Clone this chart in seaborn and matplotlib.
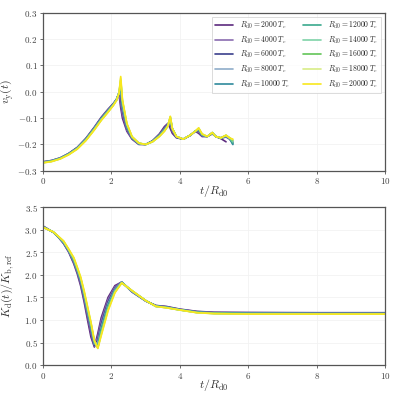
import numpy as np
import pandas as pd
import matplotlib
matplotlib.use("Agg")
import matplotlib.pyplot as plt
import seaborn as sns

radii = [2000, 4000, 6000, 8000, 10000, 12000, 14000, 16000, 18000, 20000]
colors = ["#5c2a7e", "#8a6cb0", "#3b3f8c", "#8fadc9", "#2f8a9c",
          "#3aa98d", "#7fd3a8", "#62c557", "#d8ec86", "#f8e71c"]

nan = np.nan
t_v = [0, 0.25, 0.5, 0.75, 1.0, 1.25, 1.5, 1.7, 1.9, 2.05, 2.15, 2.22, 2.27, 2.32, 2.45, 2.6, 2.8,
       3.0, 3.2, 3.4, 3.55, 3.65, 3.72, 3.78, 3.9, 4.1, 4.3, 4.45, 4.55, 4.65,
       4.8, 4.95, 5.05, 5.2, 5.35, 5.45, 5.55]
v_2000 = [-0.266, -0.261, -0.251, -0.234, -0.211, -0.177, -0.134, -0.097, -0.066, -0.045, -0.03, -0.01, -0.06, -0.1, -0.15, -0.18, -0.2,
          -0.2, -0.186, -0.16, -0.132, -0.12, -0.14, -0.158, -0.175, -0.18, -0.166, -0.15, -0.158, -0.17,
          -0.17, -0.16, -0.17, -0.178, -0.19, nan, nan]
v_4000 = [-0.266, -0.261, -0.251, -0.235, -0.212, -0.178, -0.136, -0.099, -0.068, -0.046, -0.027, -0.005, -0.04, -0.085, -0.145, -0.178, -0.199,
          -0.2, -0.187, -0.163, -0.138, -0.122, -0.125, -0.15, -0.173, -0.18, -0.166, -0.15, -0.152, -0.168,
          -0.17, -0.158, -0.17, -0.177, -0.172, -0.18, -0.19]
v_6000 = [-0.267, -0.262, -0.252, -0.235, -0.213, -0.179, -0.137, -0.1, -0.07, -0.047, -0.028, -0.004, -0.02, -0.07, -0.14, -0.176, -0.198,
          -0.2, -0.187, -0.164, -0.14, -0.124, -0.115, -0.145, -0.172, -0.18, -0.166, -0.15, -0.148, -0.166,
          -0.17, -0.157, -0.17, -0.176, -0.17, -0.178, -0.195]
v_8000 = [-0.267, -0.262, -0.252, -0.236, -0.214, -0.18, -0.138, -0.102, -0.071, -0.048, -0.028, -0.004, 0.005, -0.06, -0.135, -0.175, -0.197,
          -0.2, -0.188, -0.165, -0.142, -0.126, -0.11, -0.142, -0.171, -0.18, -0.165, -0.15, -0.145, -0.165,
          -0.17, -0.156, -0.17, -0.176, -0.169, -0.177, -0.2]
v_10000 = [-0.268, -0.263, -0.253, -0.236, -0.214, -0.181, -0.139, -0.103, -0.072, -0.049, -0.029, -0.004, 0.02, -0.05, -0.132, -0.174, -0.197,
           -0.2, -0.188, -0.166, -0.144, -0.127, -0.105, -0.14, -0.171, -0.18, -0.165, -0.15, -0.143, -0.164,
           -0.17, -0.156, -0.17, -0.176, -0.168, -0.176, -0.2]
v_12000 = [-0.268, -0.263, -0.253, -0.237, -0.215, -0.182, -0.14, -0.104, -0.073, -0.05, -0.029, -0.004, 0.03, -0.045, -0.128, -0.173, -0.196,
           -0.2, -0.189, -0.167, -0.146, -0.128, -0.1, -0.14, -0.17, -0.18, -0.165, -0.15, -0.141, -0.163,
           -0.17, -0.155, -0.17, -0.175, -0.167, -0.175, -0.195]
v_14000 = [-0.269, -0.264, -0.254, -0.237, -0.215, -0.183, -0.141, -0.105, -0.074, -0.05, -0.03, -0.005, 0.04, -0.04, -0.125, -0.172, -0.196,
           -0.2, -0.189, -0.168, -0.147, -0.129, -0.098, -0.14, -0.17, -0.18, -0.165, -0.15, -0.14, -0.162,
           -0.17, -0.155, -0.17, -0.175, -0.166, -0.175, -0.19]
v_16000 = [-0.269, -0.264, -0.254, -0.238, -0.216, -0.184, -0.143, -0.107, -0.076, -0.051, -0.031, -0.005, 0.045, -0.035, -0.123, -0.171, -0.195,
           -0.2, -0.19, -0.169, -0.148, -0.13, -0.095, -0.14, -0.17, -0.18, -0.165, -0.15, -0.139, -0.161,
           -0.17, -0.155, -0.17, -0.175, -0.165, -0.175, -0.185]
v_18000 = [-0.27, -0.265, -0.255, -0.239, -0.217, -0.185, -0.144, -0.108, -0.077, -0.052, -0.032, -0.005, 0.052, -0.032, -0.121, -0.17, -0.195,
           -0.2, -0.19, -0.17, -0.149, -0.13, -0.095, -0.14, -0.17, -0.18, -0.165, -0.15, -0.138, -0.16,
           -0.17, -0.155, -0.17, -0.175, -0.165, -0.175, -0.182]
v_20000 = [-0.27, -0.265, -0.255, -0.239, -0.218, -0.186, -0.145, -0.109, -0.078, -0.053, -0.033, -0.006, 0.058, -0.03, -0.12, -0.17, -0.195,
           -0.2, -0.19, -0.17, -0.15, -0.13, -0.093, -0.14, -0.17, -0.18, -0.165, -0.15, -0.137, -0.16,
           -0.17, -0.155, -0.17, -0.175, -0.165, -0.175, -0.18]
v_series = [v_2000, v_4000, v_6000, v_8000, v_10000, v_12000, v_14000, v_16000, v_18000, v_20000]

t_k = [0, 0.3, 0.45, 0.6, 0.75, 0.9, 1.0, 1.1, 1.2, 1.3, 1.4, 1.5, 1.6, 1.7, 1.9, 2.1, 2.3, 2.6, 3.0, 3.3,
       3.6, 4.0, 4.5, 5.0, 6.0, 8.0, 10.0]
k_2000 = [3.08, 2.94, 2.83, 2.69, 2.5, 2.24, 2.02, 1.75, 1.4, 1.0, 0.62, 0.4, 0.7, 1.05, 1.5, 1.76, 1.84, 1.62, 1.42, 1.32,
          1.30, 1.24, 1.19, 1.17, 1.165, 1.16, 1.16]
k_4000 = [3.075, 2.94, 2.83, 2.7, 2.51, 2.26, 2.05, 1.8, 1.46, 1.08, 0.72, 0.41, 0.62, 0.98, 1.45, 1.73, 1.84, 1.62, 1.42, 1.32,
          1.29, 1.235, 1.185, 1.165, 1.16, 1.155, 1.155]
k_6000 = [3.07, 2.94, 2.835, 2.7, 2.52, 2.28, 2.07, 1.83, 1.5, 1.12, 0.78, 0.43, 0.55, 0.9, 1.4, 1.7, 1.84, 1.63, 1.42, 1.31,
          1.29, 1.23, 1.18, 1.16, 1.155, 1.15, 1.15]
k_8000 = [3.065, 2.94, 2.835, 2.71, 2.53, 2.3, 2.09, 1.86, 1.53, 1.16, 0.82, 0.46, 0.5, 0.84, 1.36, 1.68, 1.84, 1.63, 1.42, 1.31,
          1.285, 1.228, 1.175, 1.155, 1.15, 1.145, 1.145]
k_10000 = [3.06, 2.945, 2.84, 2.72, 2.54, 2.32, 2.11, 1.88, 1.56, 1.2, 0.85, 0.48, 0.42, 0.8, 1.33, 1.66, 1.83, 1.64, 1.43, 1.31,
           1.28, 1.226, 1.17, 1.15, 1.145, 1.14, 1.14]
k_12000 = [3.06, 2.945, 2.84, 2.72, 2.545, 2.33, 2.12, 1.9, 1.58, 1.22, 0.88, 0.5, 0.4, 0.76, 1.3, 1.65, 1.83, 1.64, 1.43, 1.3,
           1.28, 1.224, 1.168, 1.148, 1.14, 1.138, 1.138]
k_14000 = [3.055, 2.945, 2.845, 2.73, 2.55, 2.34, 2.13, 1.91, 1.6, 1.24, 0.9, 0.51, 0.39, 0.72, 1.27, 1.64, 1.83, 1.64, 1.43, 1.3,
           1.275, 1.222, 1.165, 1.145, 1.138, 1.135, 1.135]
k_16000 = [3.055, 2.95, 2.845, 2.74, 2.555, 2.35, 2.14, 1.92, 1.61, 1.26, 0.92, 0.52, 0.38, 0.7, 1.25, 1.62, 1.82, 1.65, 1.43, 1.3,
           1.272, 1.22, 1.163, 1.142, 1.135, 1.133, 1.133]
k_18000 = [3.05, 2.95, 2.85, 2.745, 2.56, 2.37, 2.16, 1.94, 1.63, 1.28, 0.94, 0.54, 0.37, 0.67, 1.22, 1.61, 1.82, 1.65, 1.43, 1.3,
           1.27, 1.22, 1.16, 1.14, 1.132, 1.13, 1.13]
k_20000 = [3.05, 2.95, 2.85, 2.75, 2.57, 2.38, 2.17, 1.95, 1.65, 1.3, 0.95, 0.55, 0.37, 0.65, 1.2, 1.6, 1.82, 1.65, 1.43, 1.3,
           1.27, 1.22, 1.16, 1.14, 1.13, 1.13, 1.13]
k_series = [k_2000, k_4000, k_6000, k_8000, k_10000, k_12000, k_14000, k_16000, k_18000, k_20000]

labels = [r"$R_{\rm d0} = %d\;T_c$" % r for r in radii]

rows_v = []
for lab, vals in zip(labels, v_series):
    for t, v in zip(t_v, vals):
        rows_v.append((lab, t, v))
df_v = pd.DataFrame(rows_v, columns=["label", "t", "v"]).dropna()

rows_k = []
for lab, vals in zip(labels, k_series):
    for t, k in zip(t_k, vals):
        rows_k.append((lab, t, k))
df_k = pd.DataFrame(rows_k, columns=["label", "t", "k"])

sns.set_theme(style="whitegrid")
plt.rcParams["font.family"] = ["DejaVu Serif"]
plt.rcParams["mathtext.fontset"] = "cm"

fig = plt.figure(figsize=(3.99, 3.99), dpi=100)
ax1 = fig.add_axes([0.108, 0.572, 0.857, 0.396])
ax2 = fig.add_axes([0.108, 0.085, 0.857, 0.396])

pal = dict(zip(labels, colors))
sns.lineplot(data=df_v, x="t", y="v", hue="label", hue_order=labels, palette=pal,
             ax=ax1, linewidth=1.2, sort=False, estimator=None)
sns.lineplot(data=df_k, x="t", y="k", hue="label", hue_order=labels, palette=pal,
             ax=ax2, linewidth=1.2, sort=False, estimator=None, legend=False)

def mfmt(vals):
    out = []
    for v in vals:
        s = "%.1f" % (0.0 if abs(v) < 1e-9 else v)
        out.append(r"$%s$" % s)
    return out

xt = [0, 2, 4, 6, 8, 10]
for ax in (ax1, ax2):
    ax.set_xlim(0, 10)
    ax.set_xticks(xt)
    ax.set_xticklabels([r"$%d$" % x for x in xt])
    ax.set_xlabel(r"$t/R_{\rm d0}$", fontsize=8.5, color="#333333")
    ax.xaxis.set_label_coords(0.5, -0.075)
    ax.tick_params(axis="both", labelsize=6.5, length=2.5, width=0.6, pad=1.5,
                   colors="#555555", labelcolor="#444444", direction="out",
                   bottom=True, left=True)
    for s in ax.spines.values():
        s.set_linewidth(0.9)
        s.set_color("#555555")
    ax.grid(True, color="#f2f2f2", linewidth=0.6)

y1 = [-0.3, -0.2, -0.1, 0.0, 0.1, 0.2, 0.3]
ax1.set_ylim(-0.3, 0.3)
ax1.set_yticks(y1)
ax1.set_yticklabels(mfmt(y1))
ax1.set_ylabel(r"$v_{\rm y}(t)$", fontsize=8.5, color="#333333")
y2 = [0, 0.5, 1.0, 1.5, 2.0, 2.5, 3.0, 3.5]
ax2.set_ylim(0, 3.5)
ax2.set_yticks(y2)
ax2.set_yticklabels(mfmt(y2))
ax2.set_ylabel(r"$K_{\rm d}(t)/K_{\rm b,ref}$", fontsize=8.5, color="#333333")
for ax in (ax1, ax2):
    ax.yaxis.set_label_coords(-0.08, 0.5)

leg = ax1.legend(ncol=2, fontsize=5.5, loc="upper right", frameon=True,
                 handlelength=2.4, columnspacing=1.6, labelspacing=0.45,
                 borderpad=0.4, handletextpad=0.9, fancybox=False)
leg.get_frame().set_edgecolor("#cccccc")
leg.get_frame().set_linewidth(0.6)

fig.savefig("out.png", dpi=100)
